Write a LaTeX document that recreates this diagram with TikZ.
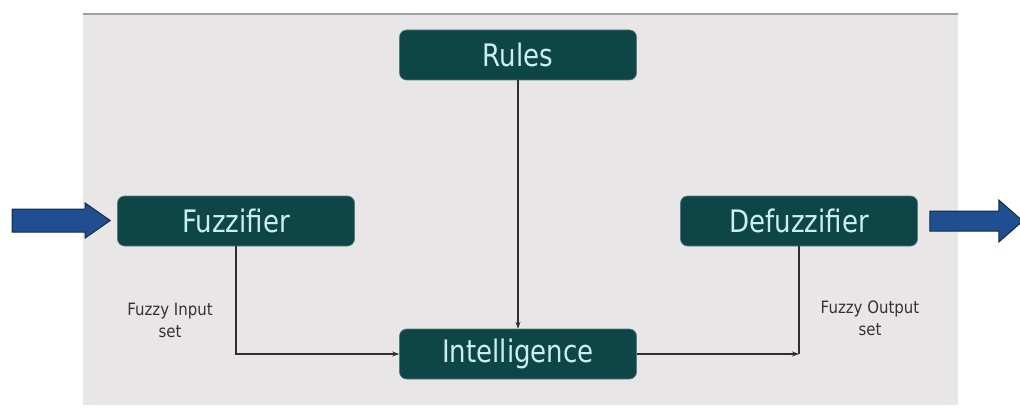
\documentclass[tikz,border=0pt]{standalone}
\usepackage{fontspec}
\usetikzlibrary{arrows.meta,calc}
\newfontfamily\boxfont[FakeStretch=0.84]{DejaVu Sans}
\newfontfamily\labelfont[FakeStretch=0.88]{DejaVu Sans}
\definecolor{panelgray}{HTML}{E9E6E7}
\definecolor{panelline}{HTML}{9C9CB0}
\definecolor{boxteal}{HTML}{0E4546}
\definecolor{boxtext}{HTML}{CBEFEF}
\definecolor{wire}{HTML}{303030}
\definecolor{flowblue}{HTML}{1F4F90}
\definecolor{flowedge}{HTML}{142A45}
\begin{document}
\begin{tikzpicture}[x=1pt,y=-1pt,
  stage/.style={draw=boxteal!70!white, line width=0.6pt, fill=boxteal, rounded corners=7pt,
    minimum width=237pt, minimum height=50pt, inner sep=0pt,
    text=boxtext, font=\boxfont\fontsize{31}{34}\selectfont},
  setlabel/.style={align=center, text=black!80, font=\labelfont\fontsize{17}{22}\selectfont},
  wireline/.style={draw=wire, line width=1.4pt},
  wirearrow/.style={wireline, -{Stealth[length=7pt,width=5pt]}},
  flow/.style={fill=flowblue, draw=flowedge, line width=1pt, line join=miter}]
  \useasboundingbox (0,0) rectangle (1020,412);
  % background panel
  \fill[panelgray] (83,14) rectangle (958,405);
  \draw[panelline, line width=1.5pt] (83,14) -- (958,14);

  % stages
  \node[stage] (rules)  at (518,55)  {Rules};
  \node[stage] (fuzz)   at (236,221) {Fuzzifier};
  \node[stage] (defuzz) at (799,221) {Defuzzifier};
  \node[stage] (intel)  at (518,354) {Intelligence};
  \coordinate (join) at (defuzz.south |- intel.east);

  % set labels
  \node[setlabel] (inlabel)  at (170,320) {Fuzzy Input\\set};
  \node[setlabel] (outlabel) at (870,318) {Fuzzy Output\\set};

  % connectors
  \draw[wirearrow] (rules.south) -- (intel.north);
  \draw[wirearrow] (fuzz.south) |- (intel.west);
  \draw[wireline] (defuzz.south) -- (join);
  \draw[wirearrow] (intel.east) -- (join);

  % input and output arrows
  \draw[flow] ($(fuzz.west)+(-105,-12)$) coordinate (inA)
     -- ++(73,0) -- ++(0,-6) -- ++(25,17.5) -- ++(-25,17.5) -- ++(0,-6) -- ++(-73,0) -- cycle;
  \draw[flow] ($(defuzz.east)+(12,-10)$) coordinate (outA)
     -- ++(69,0) -- ++(0,-11) -- ++(24,21) -- ++(-24,21) -- ++(0,-11) -- ++(-69,0) -- cycle;
\end{tikzpicture}
\end{document}
